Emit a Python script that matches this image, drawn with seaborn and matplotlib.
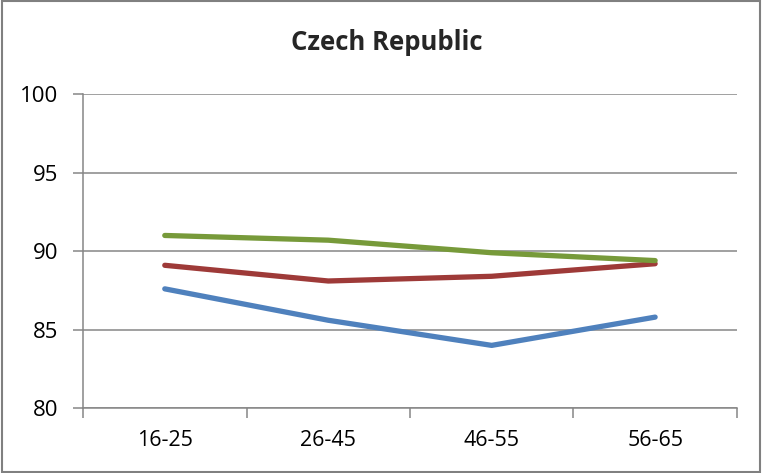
import pandas as pd
import matplotlib
matplotlib.use('Agg')
import matplotlib.pyplot as plt
import seaborn as sns

# data
age_groups = ['16-25', '26-45', '46-55', '56-65']
blue_vals = [87.6, 85.6, 84.0, 85.8]
red_vals = [89.1, 88.1, 88.4, 89.2]
green_vals = [91.0, 90.7, 89.9, 89.4]

sns.set_theme(style='white')
plt.rcParams['font.family'] = ['Open Sans', 'DejaVu Sans']

rows = []
for name, vals in [('blue', blue_vals), ('red', red_vals), ('green', green_vals)]:
    for i, v in enumerate(vals):
        rows.append({'pos': i, 'value': v, 'series': name})
df = pd.DataFrame(rows)

fig = plt.figure(figsize=(7.62, 4.73), dpi=100)
ax = fig.add_axes([0.109, 0.137, 0.858, 0.664])

palette = {'blue': '#4F81BD', 'red': '#9E3A38', 'green': '#779A3A'}
sns.lineplot(data=df, x='pos', y='value', hue='series', palette=palette,
             linewidth=3.8, legend=False, ax=ax, solid_capstyle='round')

ax.set_xlim(-0.5, 3.5)
ax.set_ylim(80, 100)
ax.set_yticks([80, 85, 90, 95, 100])
ax.yaxis.grid(True, color='#868686', linewidth=1.1)
ax.set_axisbelow(True)

ax.set_xticks(range(len(age_groups)))
ax.set_xticklabels(age_groups)
ax.set_xticks([-0.5, 0.5, 1.5, 2.5, 3.5], minor=True)
ax.tick_params(axis='x', which='major', length=0, pad=16, labelsize=15.5, colors='black')
ax.tick_params(axis='x', which='minor', length=7, width=1.1, color='#868686', direction='out', bottom=True)
ax.tick_params(axis='y', which='major', length=7, width=1.1, color='#868686', left=True, pad=11, labelsize=16, colors='black')

for s in ['top', 'right']:
    ax.spines[s].set_visible(False)
for s in ['left', 'bottom']:
    ax.spines[s].set_color('#868686')
    ax.spines[s].set_linewidth(1.1)

ax.set_xlabel('')
ax.set_ylabel('')
fig.text(0.508, 0.911, 'Czech Republic', ha='center', va='center', fontsize=18.5, fontweight='bold')

fig.patches.append(plt.Rectangle((0.002, 0.002), 0.996, 0.996, transform=fig.transFigure,
                                 fill=False, edgecolor='#808080', linewidth=1.5))

fig.savefig('out.png', dpi=100)
